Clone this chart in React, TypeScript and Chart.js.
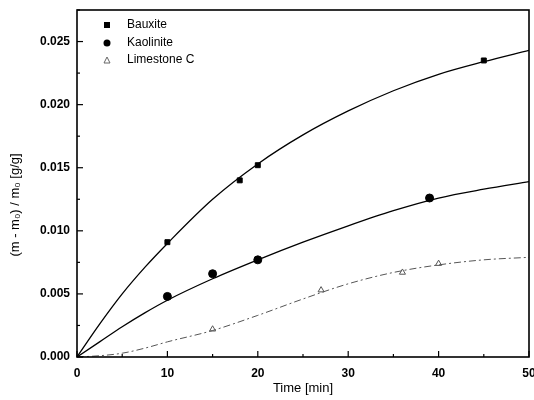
import React, { useEffect, useRef } from "react";
import { Chart, registerables } from "chart.js";

Chart.register(...registerables);

const seriesNames = ["Bauxite", "Kaolinite", "Limestone C"];
const yTitle = "(m - m\u2080) / m\u2080 [g/g]";
const xTitle = "Time [min]";

const bauxiteX = [10, 18, 20, 45];
const bauxiteY = [0.0091, 0.014, 0.0152, 0.0235];
const kaoliniteX = [10, 15, 20, 39];
const kaoliniteY = [0.0048, 0.0066, 0.0077, 0.0126];
const limestoneX = [15, 27, 36, 40];
const limestoneY = [0.0022, 0.0053, 0.0067, 0.0074];

const fitX = [0, 2.5, 5, 7.5, 10, 15, 20, 25, 30, 35, 40, 45, 50];
const bauxiteFit = [0, 0.0026, 0.005, 0.0071, 0.009, 0.0125, 0.0153, 0.0176, 0.0195, 0.0211, 0.0224, 0.0234, 0.0243];
const kaoliniteFit = [0, 0.0012, 0.0024, 0.0035, 0.0045, 0.0062, 0.0077, 0.0091, 0.0104, 0.0116, 0.0126, 0.0133, 0.0139];
const limestoneFit = [0, 0.0001, 0.0003, 0.0007, 0.0012, 0.0021, 0.0033, 0.0046, 0.0058, 0.0067, 0.0073, 0.0077, 0.0079];

const xTickValues = [0, 10, 20, 30, 40, 50];
const yTickValues = [0, 0.005, 0.01, 0.015, 0.02, 0.025];

const pts = (xs: number[], ys: number[]) => xs.map((x, i) => ({ x, y: ys[i] }));
const FONT = "'Liberation Sans', Arial, sans-serif";

const frame = {
  id: "frame",
  afterDraw(chart: any) {
    const { ctx, chartArea: a, scales } = chart;
    ctx.save();
    ctx.strokeStyle = "#000";
    ctx.lineWidth = 1.6;
    ctx.strokeRect(a.left, a.top, a.right - a.left, a.bottom - a.top);
    ctx.lineWidth = 1.2;
    for (let v = 0; v <= 50; v += 5) {
      const px = scales.x.getPixelForValue(v);
      const len = v % 10 === 0 ? 6 : 3;
      ctx.beginPath();
      ctx.moveTo(px, a.bottom);
      ctx.lineTo(px, a.bottom - len);
      ctx.stroke();
    }
    for (let i = 0; i <= 11; i++) {
      const py = scales.y.getPixelForValue(i * 0.0025);
      const len = i % 2 === 0 ? 6 : 3;
      ctx.beginPath();
      ctx.moveTo(a.left, py);
      ctx.lineTo(a.left + len, py);
      ctx.stroke();
    }
    // legend
    const lx = a.left + 30;
    const rows = [a.top + 15, a.top + 33, a.top + 50];
    ctx.fillStyle = "#000";
    ctx.fillRect(lx - 3, rows[0] - 3, 6, 6);
    ctx.beginPath();
    ctx.arc(lx, rows[1], 3.5, 0, Math.PI * 2);
    ctx.fill();
    ctx.strokeStyle = "#666";
    ctx.lineWidth = 1;
    ctx.beginPath();
    ctx.moveTo(lx - 3, rows[2] + 3);
    ctx.lineTo(lx, rows[2] - 3);
    ctx.lineTo(lx + 3, rows[2] + 3);
    ctx.closePath();
    ctx.stroke();
    ctx.fillStyle = "#000";
    ctx.font = "12px " + FONT;
    ctx.textBaseline = "middle";
    ctx.textAlign = "left";
    seriesNames.forEach((n, i) => ctx.fillText(n, lx + 20, rows[i]));
    // y title
    ctx.font = "13px " + FONT;
    ctx.textAlign = "center";
    ctx.translate(15, 205);
    ctx.rotate(-Math.PI / 2);
    ctx.fillText(yTitle, 0, 0);
    ctx.restore();
  },
};

export default function App() {
  const ref = useRef<HTMLCanvasElement>(null);
  useEffect(() => {
    document.body.style.margin = "0";
    const chart = new Chart(ref.current!, {
      type: "scatter",
      data: {
        datasets: [
          { label: "fitB", data: pts(fitX, bauxiteFit), showLine: true, borderColor: "#000", borderWidth: 1.3, pointRadius: 0, cubicInterpolationMode: "monotone" },
          { label: "fitK", data: pts(fitX, kaoliniteFit), showLine: true, borderColor: "#000", borderWidth: 1.3, pointRadius: 0, cubicInterpolationMode: "monotone" },
          { label: "fitL", data: pts(fitX, limestoneFit), showLine: true, borderColor: "#555", borderWidth: 1, borderDash: [7, 3, 2, 3], pointRadius: 0, cubicInterpolationMode: "monotone" },
          { label: seriesNames[0], data: pts(bauxiteX, bauxiteY), pointStyle: "rect", pointRadius: 3.5, backgroundColor: "#000", borderColor: "#000" },
          { label: seriesNames[1], data: pts(kaoliniteX, kaoliniteY), pointStyle: "circle", pointRadius: 4, backgroundColor: "#000", borderColor: "#000" },
          { label: seriesNames[2], data: pts(limestoneX, limestoneY), pointStyle: "triangle", pointRadius: 3.5, backgroundColor: "rgba(0,0,0,0)", borderColor: "#555", borderWidth: 1 },
        ] as any,
      },
      options: {
        animation: false,
        responsive: false,
        layout: { padding: { top: 10, right: 0, left: 0, bottom: 0 } },
        plugins: { legend: { display: false }, tooltip: { enabled: false } },
        scales: {
          x: {
            type: "linear",
            min: 0,
            max: 50,
            afterBuildTicks: (s: any) => { s.ticks = xTickValues.map((v) => ({ value: v })); },
            afterFit: (s: any) => { s.height = 43; s.paddingRight = 5; s.paddingLeft = 0; },
            grid: { display: false, drawTicks: false },
            border: { display: false },
            ticks: { padding: 9, color: "#000", font: { family: FONT, size: 12, weight: "bold" }, callback: (v: any) => String(v) },
            title: { display: true, text: xTitle, color: "#000", padding: { top: 4 }, font: { family: FONT, size: 13 } },
          },
          y: {
            type: "linear",
            min: 0,
            max: 0.0275,
            afterBuildTicks: (s: any) => { s.ticks = yTickValues.map((v) => ({ value: v })); },
            afterFit: (s: any) => { s.width = 77; s.paddingTop = 0; s.paddingBottom = 0; },
            grid: { display: false, drawTicks: false },
            border: { display: false },
            ticks: { padding: 7, color: "#000", font: { family: FONT, size: 12, weight: "bold" }, callback: (v: any) => Number(v).toFixed(3) },
            title: { display: false },
          },
        },
      },
      plugins: [frame],
    });
    return () => chart.destroy();
  }, []);
  return <canvas ref={ref} width={534} height={400} style={{ display: "block" }} />;
}
